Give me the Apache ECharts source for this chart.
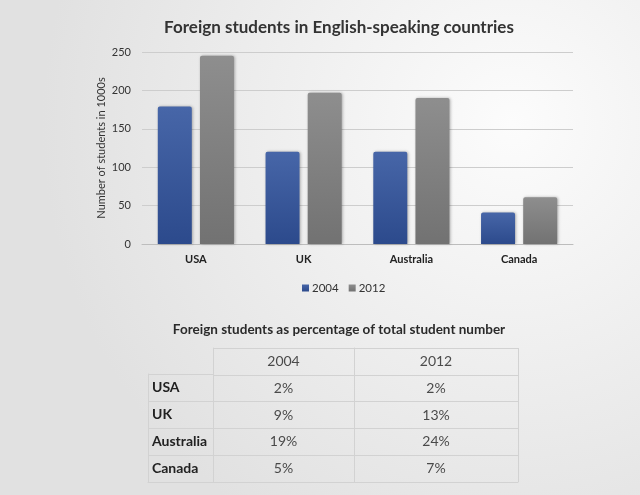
<!DOCTYPE html>
<html>
<head>
<meta charset="utf-8">
<script src="https://cdn.jsdelivr.net/npm/echarts@6/dist/echarts.min.js"></script>
<style>
  html, body { margin: 0; padding: 0; }
  #main { width: 640px; height: 495px; }
</style>
</head>
<body>
<div id="main"></div>
<script>
// bar chart data (thousands of students)
const countries = ['USA', 'UK', 'Australia', 'Canada'];
const years = ['2004', '2012'];
const students2004 = [179, 120, 120, 41];
const students2012 = [245, 197, 190, 61];

// table data
const share2004 = ['2%', '9%', '19%', '5%'];
const share2012 = ['2%', '13%', '24%', '7%'];
const shareCols = [share2004, share2012];

const FONT = 'Lato';
const tableRows = ['hdr'].concat(countries);
const lineColor = '#d2d2d2';

var myChart = echarts.init(document.getElementById('main'));

function barColor(top, bottom) {
  return new echarts.graphic.LinearGradient(0, 0, 0, 1, [
    { offset: 0, color: top },
    { offset: 1, color: bottom }
  ]);
}

// one grid per table column, so columns can have their own width
const colGrids = [
  { left: 213, width: 141, top: 348, height: 134 },
  { left: 354, width: 164, top: 348, height: 134 }
];

const tableXAxes = years.map(function (y, i) {
  return {
    type: 'category',
    gridIndex: i + 2,
    data: [y],
    axisLabel: { show: false },
    axisTick: { show: false },
    axisLine: { lineStyle: { color: lineColor } },
    splitLine: { show: true, lineStyle: { color: lineColor } }
  };
});
const tableYAxes = years.map(function (y, i) {
  return {
    type: 'category',
    gridIndex: i + 2,
    inverse: true,
    data: tableRows,
    axisLabel: { show: false },
    axisTick: { show: false },
    axisLine: { lineStyle: { color: lineColor } },
    splitLine: { show: true, lineStyle: { color: lineColor } }
  };
});
const tableSeries = years.map(function (y, i) {
  const rows = [[y, 'hdr', y]].concat(countries.map(function (c, k) {
    return [y, c, shareCols[i][k]];
  }));
  return {
    type: 'scatter',
    xAxisIndex: i + 2,
    yAxisIndex: i + 2,
    symbolSize: 0,
    silent: true,
    data: rows,
    label: {
      show: true,
      position: 'inside',
      color: '#222',
      fontFamily: FONT,
      fontSize: 14,
      formatter: function (p) { return p.value[2]; }
    }
  };
});

const option = {
  backgroundColor: {
    type: 'radial', x: 0.8, y: 0.25, r: 0.95,
    colorStops: [
      { offset: 0, color: '#fcfcfc' },
      { offset: 1, color: '#e1e1e1' }
    ]
  },
  textStyle: { fontFamily: FONT },
  title: [
    {
      text: 'Foreign students in English-speaking countries',
      left: 334, top: 14, textAlign: 'center',
      textStyle: { fontFamily: FONT, fontSize: 17, fontWeight: 'bold', color: '#333' }
    },
    {
      text: 'Foreign students as percentage of total student number',
      left: 334, top: 318, textAlign: 'center',
      textStyle: { fontFamily: FONT, fontSize: 13.5, fontWeight: 'bold', color: '#2a2a2a' }
    }
  ],
  legend: {
    data: years,
    left: 297, top: 277,
    itemWidth: 7, itemHeight: 7, itemGap: 10,
    icon: 'rect',
    textStyle: { fontFamily: FONT, fontSize: 11.5, color: '#333', padding: [0, 0, 0, -2] }
  },
  grid: [
    { left: 142, right: 67, top: 52, height: 192 },
    { left: 148, width: 65, top: 374, height: 108 }
  ].concat(colGrids),
  xAxis: [
    {
      type: 'category',
      gridIndex: 0,
      data: countries,
      axisTick: { show: false },
      axisLine: { lineStyle: { color: '#bdbdbd' } },
      axisLabel: { margin: 10, fontFamily: FONT, fontSize: 11, fontWeight: 'bold', color: '#222' }
    },
    {
      type: 'category',
      gridIndex: 1,
      data: [''],
      axisLabel: { show: false },
      axisTick: { show: false },
      axisLine: { lineStyle: { color: lineColor } },
      splitLine: { show: true, lineStyle: { color: lineColor } }
    }
  ].concat(tableXAxes),
  yAxis: [
    {
      type: 'value',
      gridIndex: 0,
      min: 0, max: 250, interval: 50,
      name: 'Number of students in 1000s',
      nameLocation: 'middle',
      nameGap: 35,
      nameMoveOverlap: false,
      nameTextStyle: { fontFamily: FONT, fontSize: 11, color: '#333' },
      axisLabel: { margin: 11, fontFamily: FONT, fontSize: 11, color: '#333' },
      splitLine: { lineStyle: { color: '#cdcdcd' } }
    },
    {
      type: 'category',
      gridIndex: 1,
      inverse: true,
      data: countries,
      axisTick: { show: false },
      axisLine: { lineStyle: { color: lineColor } },
      splitLine: { show: true, lineStyle: { color: lineColor } },
      axisLabel: {
        inside: true, margin: 4, align: 'left',
        fontFamily: FONT, fontSize: 14, fontWeight: 'bold', color: '#222'
      }
    }
  ].concat(tableYAxes),
  series: [
    {
      name: '2004',
      type: 'bar',
      data: students2004,
      barWidth: 34,
      barGap: '24%',
      itemStyle: {
        color: barColor('#4766a8', '#2c4a8c'),
        borderRadius: [2, 2, 0, 0],
        shadowBlur: 3, shadowColor: 'rgba(0,0,0,0.3)', shadowOffsetX: 1
      }
    },
    {
      name: '2012',
      type: 'bar',
      data: students2012,
      barWidth: 34,
      itemStyle: {
        color: barColor('#8e8e8e', '#727272'),
        borderRadius: [2, 2, 0, 0],
        shadowBlur: 3, shadowColor: 'rgba(0,0,0,0.3)', shadowOffsetX: 1
      }
    }
  ].concat(tableSeries)
};

myChart.setOption(option);
</script>
</body>
</html>
